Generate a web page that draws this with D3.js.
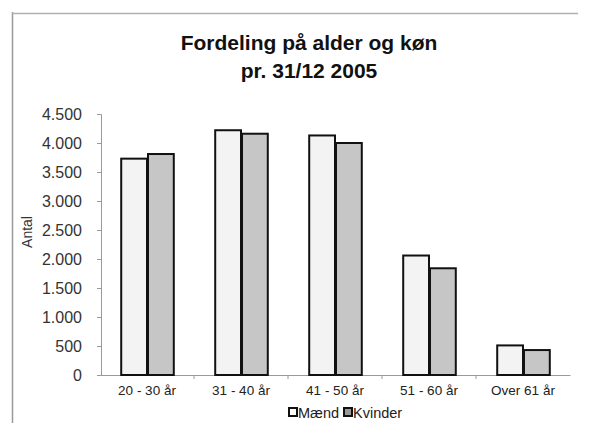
<!DOCTYPE html>
<html><head><meta charset="utf-8">
<script src="https://cdn.jsdelivr.net/npm/d3@7"></script>
<style>body{margin:0;background:#fff}svg{display:block}</style>
</head><body>
<svg id="c" width="601" height="423"></svg>
<script>
const categories = ["20 - 30 år","31 - 40 år","41 - 50 år","51 - 60 år","Over 61 år"];
const series = ["Mænd","Kvinder"];
const maend = [3730, 4220, 4130, 2060, 510];
const kvinder = [3810, 4160, 4000, 1840, 430];
const yTicks = [0,500,1000,1500,2000,2500,3000,3500,4000,4500];
const title = ["Fordeling på alder og køn","pr. 31/12 2005"];
const yLabel = "Antal";

const svg = d3.select("#c");
const fills = {"Mænd":"#f3f3f3","Kvinder":"#c6c6c6"};
const font = "Liberation Sans, Arial, sans-serif";

// frame
svg.append("line").attr("x1",12.5).attr("x2",12.5).attr("y1",12).attr("y2",423).attr("stroke","#9a9a9a").attr("stroke-width",1.5);
svg.append("line").attr("x1",12).attr("x2",578).attr("y1",13.5).attr("y2",13.5).attr("stroke","#b0b0b0").attr("stroke-width",1.5);

const x0 = d3.scaleBand().domain(categories).range([100,570]).paddingInner(0.43).paddingOuter(0.215);
const x1 = d3.scaleBand().domain(series).range([0,x0.bandwidth()]);
const y = d3.scaleLinear().domain([0,4500]).range([375,114]);

// title
svg.append("g").selectAll("text").data(title).join("text")
  .attr("x",309).attr("y",(d,i)=>50+i*28).attr("text-anchor","middle")
  .attr("font-family",font).attr("font-weight","bold").attr("font-size",21).attr("fill","#111").text(d=>d);

// y axis
const ya = svg.append("g").attr("transform","translate(101,0)")
  .call(d3.axisLeft(y).tickValues(yTicks).tickSize(4).tickPadding(15).tickFormat(d=>d3.format(",")(d).replace(/,/g,".")));
ya.select(".domain").attr("stroke","#9a9a9a");
ya.selectAll(".tick line").attr("stroke","#9a9a9a");
ya.selectAll("text").attr("font-family",font).attr("font-size",16).attr("fill","#333");

// x axis
const xa = svg.append("g").attr("transform","translate(0,375)")
  .call(d3.axisBottom(x0).tickSize(0).tickPadding(10));
xa.select(".domain").attr("stroke","#9a9a9a");
xa.selectAll("text").attr("font-family",font).attr("font-size",13.5).attr("fill","#222");
// x separators
const seps = categories.slice(1).map(c=>x0(c)-x0.step()*x0.paddingInner()/2);
svg.append("g").selectAll("line").data(seps).join("line")
  .attr("x1",d=>d).attr("x2",d=>d).attr("y1",375).attr("y2",379).attr("stroke","#9a9a9a");

// y label
svg.append("text").attr("transform","translate(32,232) rotate(-90)").attr("text-anchor","middle")
  .attr("font-family",font).attr("font-size",14).attr("fill","#333").text(yLabel);

// bars
const data = categories.map((c,i)=>({c, vals:[{s:"Mænd",v:maend[i]},{s:"Kvinder",v:kvinder[i]}]}));
svg.append("g").selectAll("g").data(data).join("g").attr("transform",d=>`translate(${x0(d.c)},0)`)
  .selectAll("rect").data(d=>d.vals).join("rect")
  .attr("x",d=>x1(d.s)+1).attr("width",x1.bandwidth()-1)
  .attr("y",d=>y(d.v)).attr("height",d=>y(0)-y(d.v))
  .attr("fill",d=>fills[d.s]).attr("stroke","#111").attr("stroke-width",2);

// legend
const lg = svg.append("g");
const lx = [289, 344];
series.forEach((s,i)=>{
  lg.append("rect").attr("x",lx[i]).attr("y",408).attr("width",8).attr("height",8)
    .attr("fill",fills[s]==="#f3f3f3"?"#fff":"#999").attr("stroke","#111").attr("stroke-width",2);
  lg.append("text").attr("x",lx[i]+9).attr("y",418).attr("font-family",font).attr("font-size",14.5).attr("fill","#222").text(s);
});
</script>
</body></html>
